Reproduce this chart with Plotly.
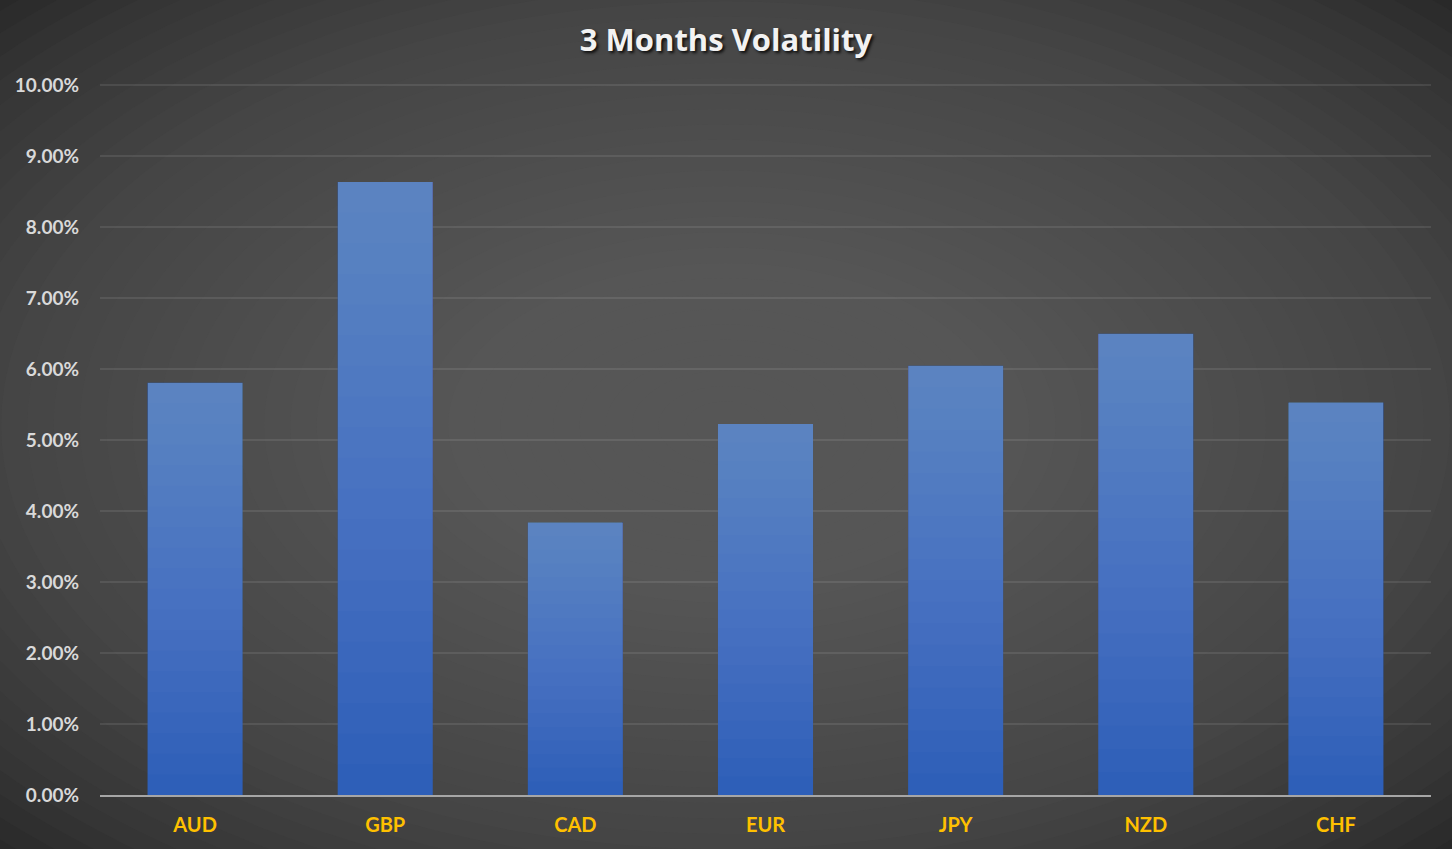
import plotly.graph_objects as go

# 3 month volatility per currency (fraction)
currencies = ['AUD', 'GBP', 'CAD', 'EUR', 'JPY', 'NZD', 'CHF']
volatility = [0.0581, 0.0864, 0.0384, 0.0523, 0.0605, 0.0650, 0.0553]

chart_title = '3 Months Volatility'

fig = go.Figure()

# base bar (darkest blue, bottom of the gradient)
fig.add_trace(go.Bar(
    x=currencies, y=volatility,
    marker=dict(color='#2e5fb8', line=dict(width=0)),
    hovertemplate='%{x}: %{y:.2%}<extra></extra>',
))

# stacked translucent layers, so each bar gets lighter towards its top
n_layers = 20
for k in range(1, n_layers):
    frac = k / n_layers
    fig.add_trace(go.Bar(
        x=currencies,
        y=[v * (1 - frac) for v in volatility],
        base=[v * frac for v in volatility],
        marker=dict(color='rgba(235,242,255,0.016)', line=dict(width=0)),
        hoverinfo='skip',
    ))

# radial background gradient: concentric translucent ellipses in paper coords
cx, cy = 0.47, 0.52
hw, hh = 0.545, 0.597
shapes = []
n_rings = 40
for i in range(n_rings):
    s = 1.45 * (1 - i / n_rings) + 0.02
    shapes.append(dict(
        type='circle', xref='paper', yref='paper', layer='below',
        x0=cx - hw * s, x1=cx + hw * s, y0=cy - hh * s, y1=cy + hh * s,
        fillcolor='rgba(96,96,96,0.06)', line=dict(width=0),
    ))

fig.update_layout(
    width=1452, height=849,
    barmode='overlay', bargap=0.5, showlegend=False,
    paper_bgcolor='#222222', plot_bgcolor='rgba(0,0,0,0)',
    margin=dict(l=100, r=21, t=84, b=54),
    shapes=shapes,
    title=dict(
        text=chart_title, x=0.5, xref='container', xanchor='center',
        y=1 - 40 / 849, yref='container', yanchor='middle',
        font=dict(family='Open Sans', size=31, color='#f2f2f2', weight='bold',
                  shadow='2px 2px 3px rgba(0,0,0,0.8)'),
    ),
    xaxis=dict(
        showgrid=False, showline=True, linecolor='#a6a6a6', linewidth=1.5,
        ticks='', ticklabelstandoff=11, automargin=False,
        tickfont=dict(family='Lato', size=20, color='#ffc000', weight='bold'),
    ),
    yaxis=dict(
        range=[0, 0.1002], dtick=0.01, tickformat='.2%', automargin=False,
        showgrid=True, gridcolor='rgba(255,255,255,0.09)', gridwidth=2,
        zeroline=False, ticks='', ticklabelstandoff=20,
        tickfont=dict(family='Lato', size=19, color='#d9d9d9', weight='bold'),
    ),
)

fig.write_html('out.html', config={'displayModeBar': False},
               post_script="document.body.style.margin='0';")
